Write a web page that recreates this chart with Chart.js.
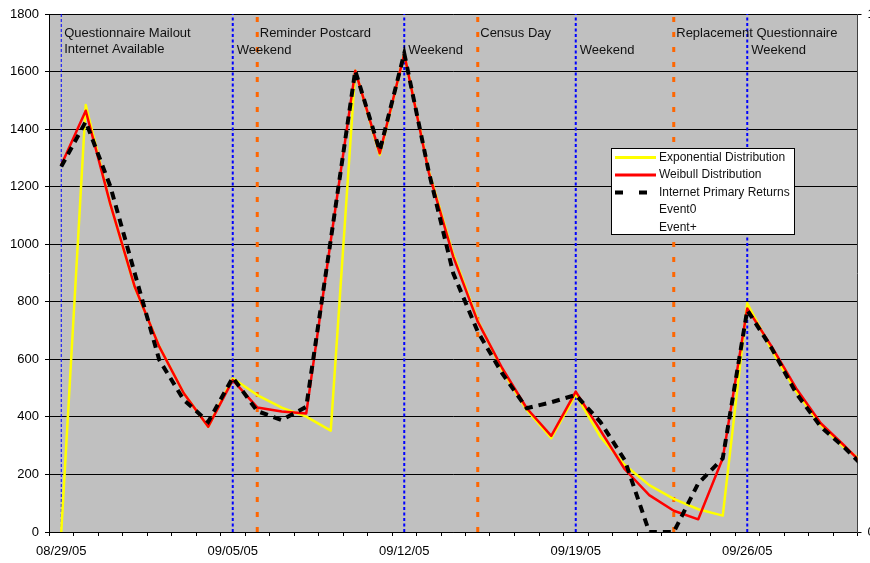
<!DOCTYPE html>
<html>
<head>
<meta charset="utf-8">
<script src="https://cdn.jsdelivr.net/npm/chart.js@4/dist/chart.umd.min.js"></script>
<style>
  html, body { margin: 0; padding: 0; background: #ffffff; }
  #wrap { width: 870px; height: 563px; }
</style>
</head>
<body>
<div id="wrap"><canvas id="c" width="870" height="563"></canvas></div>
<script>
// Daily categories (the last day runs past the right edge of the plot)
const dates = [
  '08/29/05','08/30/05','08/31/05','09/01/05','09/02/05','09/03/05','09/04/05',
  '09/05/05','09/06/05','09/07/05','09/08/05','09/09/05','09/10/05','09/11/05',
  '09/12/05','09/13/05','09/14/05','09/15/05','09/16/05','09/17/05','09/18/05',
  '09/19/05','09/20/05','09/21/05','09/22/05','09/23/05','09/24/05','09/25/05',
  '09/26/05','09/27/05','09/28/05','09/29/05','09/30/05','10/01/05'
];

const exponential = [
  0, 1484, 1140, 850, 645, 482, 366,
  534, 476, 432, 401, 352, 1603, 1310,
  1661, 1255, 965, 735, 563, 424, 326,
  478, 331, 233, 163, 115, 79, 57,
  795, 632, 488, 372, 291, 225
];

const weibull = [
  1275, 1464, 1140, 852, 644, 482, 366,
  528, 433, 419, 412, 1012, 1603, 1316,
  1661, 1250, 957, 731, 569, 430, 334,
  488, 354, 218, 128, 74, 44, 256,
  777, 644, 499, 378, 297, 212
];

const internetReturns = [
  1270, 1426, 1202, 899, 598, 459, 383,
  537, 420, 389, 435, 1015, 1603, 1325,
  1663, 1252, 899, 696, 551, 430, 451,
  476, 383, 250, 0, 0, 169, 256,
  771, 638, 482, 366, 291, 205
];

const mailoutDates = ['08/29/05'];
const mailoutNotes = ['Questionnaire Mailout', 'Internet Available'];
const weekendDates = ['09/05/05', '09/12/05', '09/19/05', '09/26/05'];
const weekendNote = 'Weekend';
const eventDates = ['09/06/05', '09/15/05', '09/23/05'];
const eventNotes = ['Reminder Postcard', 'Census Day', 'Replacement Questionnaire'];

const tickLabels = ['08/29/05', '09/05/05', '09/12/05', '09/19/05', '09/26/05'];
const yTickStep = 200;
const yMax = 1800;

const FONT = "'Liberation Sans', Arial, sans-serif";

// Each day occupies one unit on the x axis; its value sits in the middle of it.
const dayPos = d => dates.indexOf(d) + 0.5;
const toPoints = vals => vals.map((v, i) => ({ x: i + 0.5, y: v }));
const verticals = list => {
  const pts = [];
  list.forEach(d => { const x = dayPos(d); pts.push({ x, y: 0 }, { x, y: 1 }, { x, y: null }); });
  return pts;
};

const xTickValues = [];
for (let i = 0; i <= dates.length - 1; i++) xTickValues.push(i);
tickLabels.forEach(t => xTickValues.push(dayPos(t)));
xTickValues.sort((a, b) => a - b);

const plotBackground = {
  id: 'plotBackground',
  beforeDraw(chart) {
    const { ctx, chartArea: a } = chart;
    ctx.save();
    ctx.fillStyle = '#c0c0c0';
    ctx.fillRect(a.left, a.top, a.right - a.left, a.bottom - a.top);
    ctx.restore();
  }
};

const notes = {
  id: 'notes',
  afterDatasetsDraw(chart) {
    const { ctx } = chart;
    const xs = chart.scales.x;
    ctx.save();
    ctx.font = '13px ' + FONT;
    ctx.fillStyle = '#111';
    ctx.textBaseline = 'middle';
    ctx.textAlign = 'left';
    mailoutDates.forEach(d => {
      const px = xs.getPixelForValue(dayPos(d)) + 3;
      mailoutNotes.forEach((t, k) => ctx.fillText(t, px, 33 + k * 16));
    });
    eventDates.forEach((d, k) => {
      ctx.fillText(eventNotes[k], xs.getPixelForValue(dayPos(d)) + 2.5, 33);
    });
    weekendDates.forEach(d => {
      ctx.fillText(weekendNote, xs.getPixelForValue(dayPos(d)) + 4, 50.5);
    });
    ctx.restore();
  }
};

const legendBox = {
  id: 'legendBox',
  afterDraw(chart) {
    const { ctx } = chart;
    const bx = 611.5, by = 148.5, bw = 183, bh = 86;
    ctx.save();
    ctx.fillStyle = '#ffffff';
    ctx.fillRect(bx, by, bw, bh);
    ctx.strokeStyle = '#000';
    ctx.lineWidth = 1;
    ctx.strokeRect(bx, by, bw, bh);
    ctx.font = '12px ' + FONT;
    ctx.textBaseline = 'middle';
    ctx.fillStyle = '#111';
    const items = chart.data.datasets.filter(ds => ds.inLegend);
    items.forEach((ds, i) => {
      const y = 157.5 + i * 17.5;
      if (ds.legendSample) {
        ctx.beginPath();
        ctx.strokeStyle = ds.borderColor;
        ctx.lineWidth = ds.legendSample === 'dash' ? 4 : 3;
        ctx.lineCap = 'butt';
        ctx.setLineDash(ds.legendSample === 'dash' ? [8, 16] : []);
        ctx.moveTo(615, y);
        ctx.lineTo(ds.legendSample === 'dash' ? 648 : 656, y);
        ctx.stroke();
        ctx.setLineDash([]);
      }
      ctx.fillText(ds.label, 659, y);
    });
    ctx.restore();
  }
};

new Chart(document.getElementById('c'), {
  type: 'line',
  data: {
    datasets: [
      {
        label: 'Exponential Distribution', data: toPoints(exponential),
        borderColor: '#ffff00', borderWidth: 2.5, pointRadius: 0, tension: 0,
        borderJoinStyle: 'round', order: 2, yAxisID: 'y', inLegend: true, legendSample: 'line'
      },
      {
        label: 'Weibull Distribution', data: toPoints(weibull),
        borderColor: '#ff0000', borderWidth: 2.5, pointRadius: 0, tension: 0,
        borderJoinStyle: 'round', order: 1, yAxisID: 'y', inLegend: true, legendSample: 'line'
      },
      {
        label: 'Internet Primary Returns', data: toPoints(internetReturns),
        borderColor: '#000000', borderWidth: 4, borderDash: [8, 6], borderCapStyle: 'butt',
        pointRadius: 0, tension: 0, order: 0, yAxisID: 'y', inLegend: true, legendSample: 'dash'
      },
      {
        label: 'Event0', data: verticals(weekendDates),
        borderColor: '#0000ff', borderWidth: 2, borderDash: [3, 2.5], borderCapStyle: 'butt',
        pointRadius: 0, spanGaps: false, order: 5, yAxisID: 'y2', inLegend: true
      },
      {
        label: 'Event+', data: verticals(eventDates),
        borderColor: '#ff6600', borderWidth: 3, borderDash: [5, 10], borderCapStyle: 'butt',
        pointRadius: 0, spanGaps: false, order: 5, yAxisID: 'y2', inLegend: true
      },
      {
        label: 'Mailout', data: verticals(mailoutDates),
        borderColor: '#0000ff', borderWidth: 1, borderDash: [3, 2], borderCapStyle: 'butt',
        pointRadius: 0, spanGaps: false, order: 5, yAxisID: 'y2', inLegend: false
      }
    ]
  },
  options: {
    responsive: false,
    animation: false,
    devicePixelRatio: 1,
    layout: { autoPadding: false, padding: { top: 14, left: 0, right: 0, bottom: 0 } },
    plugins: { legend: { display: false }, tooltip: { enabled: false } },
    scales: {
      x: {
        type: 'linear', min: 0, max: dates.length - 1,
        afterBuildTicks(scale) { scale.ticks = xTickValues.map(v => ({ value: v })); },
        afterFit(scale) { scale.height = 31; },
        ticks: {
          autoSkip: false, maxRotation: 0, minRotation: 0, padding: 8,
          color: '#000', font: { family: FONT, size: 13 },
          callback(v) {
            const idx = v - 0.5;
            return Number.isInteger(v) ? '' : (tickLabels.includes(dates[idx]) ? dates[idx] : '');
          }
        },
        grid: {
          drawOnChartArea: false, drawTicks: true, tickLength: 4, tickWidth: 1,
          tickColor: ctx => (ctx.tick && Number.isInteger(ctx.tick.value)) ? '#000' : 'rgba(0,0,0,0)'
        },
        border: { color: '#000', width: 1 }
      },
      y: {
        position: 'left', min: 0, max: yMax,
        afterFit(scale) { scale.width = 49; },
        ticks: {
          stepSize: yTickStep, padding: 6, color: '#000', font: { family: FONT, size: 13 },
          callback: v => String(v)
        },
        grid: { color: '#000', lineWidth: 1, drawTicks: true, tickLength: 4, tickColor: '#000' },
        border: { color: '#000', width: 1 }
      },
      y2: {
        position: 'right', min: 0, max: 1,
        afterFit(scale) { scale.width = 12.5; },
        ticks: {
          stepSize: 1, padding: 6, color: '#000', font: { family: FONT, size: 13 },
          callback: v => String(v)
        },
        grid: { drawOnChartArea: false, drawTicks: true, tickLength: 4, tickColor: '#000' },
        border: { color: '#404040', width: 1 }
      }
    }
  },
  plugins: [plotBackground, notes, legendBox]
});
</script>
</body>
</html>
